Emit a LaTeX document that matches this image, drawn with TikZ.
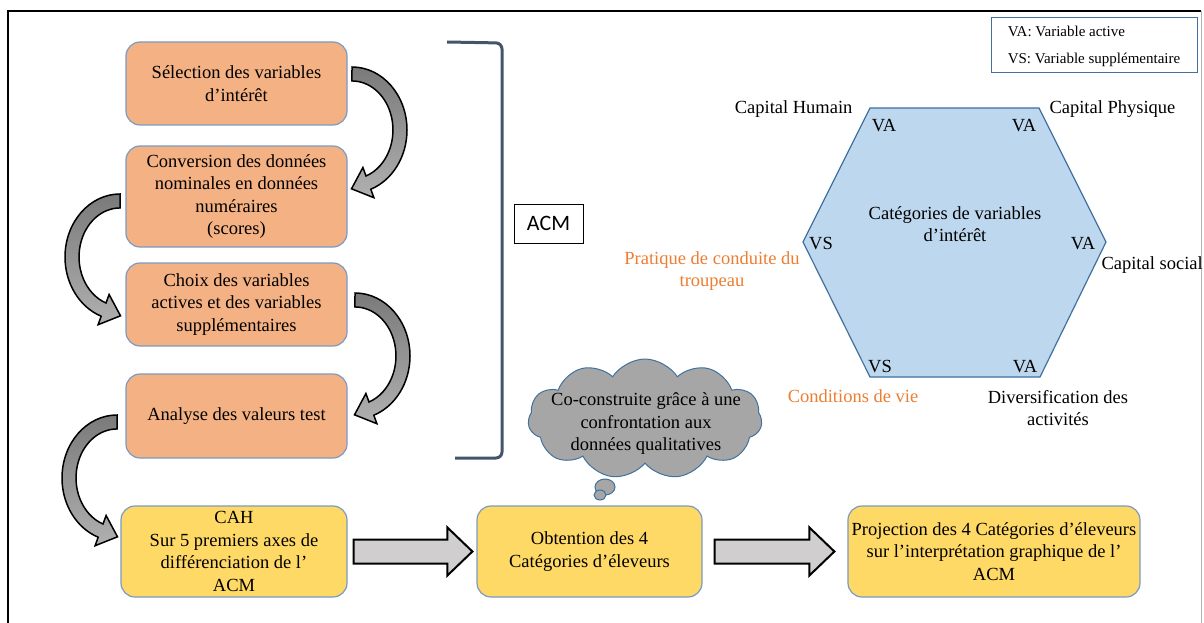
\documentclass[tikz,border=0pt]{standalone}
\usepackage{fontspec}
\setmainfont{Liberation Serif}
\newfontfamily\acmfont{Carlito}
\usepackage{tikz}
\usetikzlibrary{arrows.meta}
\usetikzlibrary{shapes.symbols}
\usetikzlibrary{calc}

\definecolor{stepfill}{HTML}{F4B183}
\definecolor{resfill}{HTML}{FFD966}
\definecolor{boxline}{HTML}{7A9AC4}
\definecolor{hexfill}{HTML}{BDD7EE}
\definecolor{hexline}{HTML}{41719C}
\definecolor{bracketcol}{HTML}{44546A}
\definecolor{vsorange}{HTML}{ED7D31}
\definecolor{cloudfill}{HTML}{A6A6A6}
\definecolor{arrowfill}{HTML}{D0CECE}
\definecolor{bendtop}{HTML}{7A7A7A}
\definecolor{bendbot}{HTML}{B0B0B0}

\tikzset{
	stepbox/.style={rounded corners=14pt, draw=boxline, line width=1.2pt, fill=stepfill,
		minimum width=221pt, align=center, inner sep=0pt},
	resbox/.style={stepbox, fill=resfill},
	blockarrow/.style={draw=black, line width=2pt, fill=arrowfill, line join=miter},
	thought/.style={cloud, cloud puffs=11, cloud puff arc=115, aspect=2, draw=hexline,
		fill=cloudfill, line width=1pt, minimum width=234pt, minimum height=120pt},
	bendarrow/.pic={
		\draw[line width=1.5pt, top color=bendtop, bottom color=bendbot]
		(0,-63) arc[start angle=-90, end angle=70, x radius=55, y radius=63]
		-- (21.9,67.7) -- (-0.5,58.8) -- (10.9,37.5) -- (14.0,46.0)
		arc[start angle=70, end angle=-90, x radius=41, y radius=49] -- cycle;
	}
}

\begin{document}
\begin{tikzpicture}[x=1pt, y=-1pt, font=\fontsize{18.5}{22.5}\selectfont]
	\useasboundingbox (0,0) rectangle (1204,623);
	% frame
	\draw[line width=1.5pt] (8,623) -- (8,11) -- (1201,11);
	\draw[gray!60] (1201,11) -- (1201,623);

	% ACM steps
	\node[stepbox, minimum height=83pt] (sel) at (236.5,83.5) {S\'election des variables\\d’int\'er\^et};
	\node[stepbox, minimum height=101pt] (conv) at (236.5,196.5) {Conversion des donn\'ees\\nominales en donn\'ees\\num\'eraires\\(scores)};
	\node[stepbox, minimum height=83pt] (choix) at (236.5,304.5) {Choix des variables\\actives et des variables\\suppl\'ementaires};
	\node[stepbox, minimum height=84pt] (ana) at (236.5,416) {Analyse des valeurs test};

	% bent arrows between steps
	\pic at (352,130) {bendarrow};
	\pic[xscale=-1] at (120,257) {bendarrow};
	\pic at (355,356) {bendarrow};
	\pic[xscale=-1] at (117,478) {bendarrow};

	% bracket and ACM label
	\draw[bracketcol, line width=3pt, rounded corners=6pt] (447,42) -- (502,43) -- (502,458) -- (455,458);
	\node[draw, thin, minimum width=69pt, minimum height=39pt, inner sep=0pt,
		font=\acmfont\fontsize{22}{26}\selectfont] (acm) at (548.5,223.5) {ACM};

	% results
	\node[resbox, minimum width=226pt, minimum height=91pt] (cah) at (234,551.5) {CAH\\Sur 5 premiers axes de\\diff\'erenciation de l’\\ACM};
	\node[resbox, minimum width=225pt, minimum height=91pt] (obt) at (589.5,551.5) {Obtention des 4\\Cat\'egories d’\'eleveurs};
	\node[resbox, minimum width=292pt, minimum height=91pt] (proj) at (994,551.5) {Projection des 4 Cat\'egories d’\'eleveurs\\sur l’interpr\'etation graphique de l’\\ACM};

	\draw[blockarrow] ($(cah.east)+(6,-12)$) -- ($(obt.west)+(-29,-12)$) -- ($(obt.west)+(-29,-24)$)
		-- ($(obt.west)+(-4,0)$) -- ($(obt.west)+(-29,24)$) -- ($(obt.west)+(-29,12)$)
		-- ($(cah.east)+(6,12)$) -- cycle;
	\draw[blockarrow] ($(obt.east)+(12,-12)$) -- ($(proj.west)+(-38,-12)$) -- ($(proj.west)+(-38,-24)$)
		-- ($(proj.west)+(-13,0)$) -- ($(proj.west)+(-38,24)$) -- ($(proj.west)+(-38,12)$)
		-- ($(obt.east)+(12,12)$) -- cycle;

	% thought cloud
	\node[thought] (cloud) at (645,419) {};
	\draw[draw=hexline, fill=cloudfill, line width=1pt] (605,487) ellipse[x radius=10, y radius=8];
	\draw[draw=hexline, fill=cloudfill, line width=1pt] (600,495) ellipse[x radius=6, y radius=5];
	\node[align=center] (cloudtxt) at (646,424) {Co-construite gr\^ace \`a une\\confrontation aux\\donn\'ees qualitatives};

	% hexagon of variable categories
	\draw[draw=hexline, line width=1.2pt, fill=hexfill] (870,108) -- (1039,108) -- (1106,242)
		-- (1040,377) -- (870,377) -- (803,242) -- cycle;
	\node[align=center] (cat) at (955,224) {Cat\'egories de variables\\d’int\'er\^et};
	\node (va1) at (884,126) {VA};
	\node (va2) at (1024,126) {VA};
	\node (vs1) at (821,244) {VS};
	\node (va3) at (1083,244) {VA};
	\node (vs2) at (880,367) {VS};
	\node (va4) at (1025,367) {VA};
	\node[anchor=east] (hum) at (856,109) {Capital Humain};
	\node[anchor=west] (phy) at (1046,109) {Capital Physique};
	\node[anchor=west] (soc) at (1098,265) {Capital social};
	\node[align=center, text=vsorange] (prat) at (712,271) {Pratique de conduite du\\troupeau};
	\node[text=vsorange] (cond) at (853,396) {Conditions de vie};
	\node[align=center] (div) at (1058,408) {Diversification des\\activit\'es};

	% legend
	\node[draw=hexline, thick, minimum width=206pt, minimum height=55pt, align=left,
		font=\fontsize{15}{27}\selectfont] (leg) at (1094,44.5) {\rule{0pt}{14pt}VA: Variable active\\VS: Variable suppl\'ementaire};
\end{tikzpicture}
\end{document}
